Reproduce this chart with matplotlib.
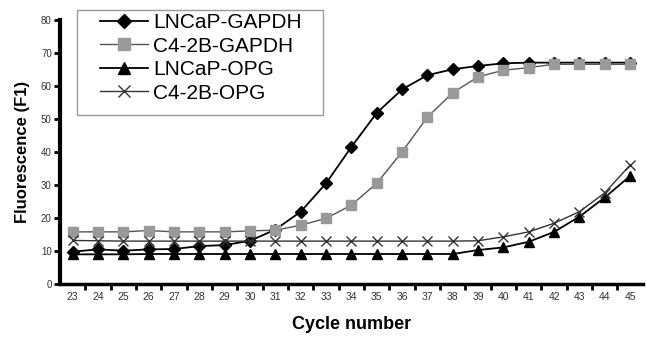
"""Real-time PCR amplification curves (fluorescence vs cycle number)."""

import matplotlib

matplotlib.use("Agg")
import matplotlib.pyplot as plt
from matplotlib.patches import Rectangle

plt.rcParams["font.family"] = ["Liberation Sans", "DejaVu Sans"]

cycles = list(range(23, 46))

lncap_gapdh = [9.8, 10.5, 10.1, 10.5, 10.6, 11.5, 11.8, 13.1, 16.5, 21.9, 30.5, 41.5,
               51.8, 58.9, 63.2, 65.0, 66.0, 66.8, 67.0, 67.0, 67.0, 67.0, 67.0]
c42b_gapdh = [15.8, 15.8, 15.8, 16.2, 15.8, 15.8, 15.8, 16.1, 16.3, 17.8, 19.9, 23.9,
              30.5, 40.0, 50.5, 57.9, 62.7, 64.7, 65.5, 66.5, 66.5, 66.5, 66.5]
lncap_opg = [9.0, 9.0, 9.0, 9.1, 9.1, 9.1, 9.1, 9.1, 9.1, 9.1, 9.1, 9.1,
             9.1, 9.1, 9.1, 9.1, 10.3, 11.1, 12.8, 15.8, 20.4, 26.2, 32.7]
c42b_opg = [13.2, 13.1, 13.0, 13.0, 13.0, 13.0, 13.0, 13.0, 13.0, 13.0, 13.0, 13.0,
            13.0, 13.0, 13.0, 13.0, 13.1, 14.3, 15.8, 18.4, 21.9, 27.6, 36.0]

fig = plt.figure(figsize=(6.46, 3.39), dpi=100)
ax = fig.add_axes([0.093, 0.162, 0.902, 0.780])

ax.plot(cycles, lncap_gapdh, color="black", lw=1.3, marker="D", ms=6,
        mfc="black", mec="black", label="LNCaP-GAPDH")
ax.plot(cycles, c42b_gapdh, color="#555555", lw=1.0, marker="s", ms=7.5,
        mfc="#999999", mec="#999999", label="C4-2B-GAPDH")
ax.plot(cycles, lncap_opg, color="black", lw=1.3, marker="^", ms=7.5,
        mfc="black", mec="black", label="LNCaP-OPG")
ax.plot(cycles, c42b_opg, color="#333333", lw=1.0, marker="x", ms=7,
        mew=1.0, mec="#333333", label="C4-2B-OPG")

ax.set_xlim(22.5, 45.5)
ax.set_ylim(0, 80)
ax.set_yticks(range(0, 81, 10))
ax.set_xticks(cycles)
ax.set_xticks([c + 0.5 for c in cycles[:-1]], minor=True)
ax.tick_params(axis="x", which="major", length=0, labelsize=7.5, colors="#333333", pad=6)
ax.tick_params(axis="x", which="minor", length=4, width=2, color="black")
ax.tick_params(axis="y", length=4, width=2, labelsize=7, colors="#333333", pad=2)
ax.tick_params(axis="y", color="black")

for side in ("top", "right"):
    ax.spines[side].set_visible(False)
ax.spines["left"].set_linewidth(3)
ax.spines["bottom"].set_linewidth(2.5)

ax.set_xlabel("Cycle number", fontsize=13, fontweight="bold", labelpad=10)
ax.set_ylabel("Fluorescence (F1)", fontsize=12, fontweight="bold", labelpad=8)

# legend box drawn separately (Excel-style, roomier than the entries)
box = Rectangle((77 / 646, 1 - 115 / 339), 246 / 646, 105 / 339,
                transform=fig.transFigure, facecolor="white", edgecolor="#999999",
                linewidth=1.0, zorder=4, clip_on=False)
ax.add_patch(box)
leg = ax.legend(loc="upper left", bbox_to_anchor=(100 / 646, 1 - 13 / 339),
                bbox_transform=fig.transFigure, fontsize=15, frameon=False,
                handlelength=2.3, labelspacing=0.22, borderpad=0.0,
                handletextpad=0.25, borderaxespad=0, markerscale=1.15)
leg.set_zorder(5)

fig.savefig("out.png", dpi=100)
